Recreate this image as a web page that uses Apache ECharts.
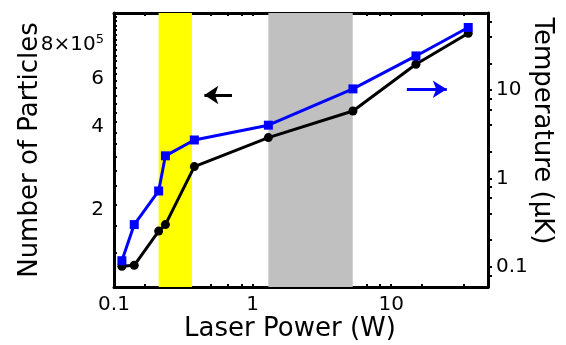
<!DOCTYPE html>
<html>
<head>
<meta charset="utf-8">
<script src="https://cdn.jsdelivr.net/npm/echarts@6/dist/echarts.min.js"></script>
<style>html,body{margin:0;padding:0;background:#fff}#c{width:566px;height:345px}</style>
</head>
<body>
<div id="c"></div>
<script>
// Data
const power = [0.114, 0.14, 0.21, 0.235, 0.38, 1.3, 5.3, 15.1, 36];
const particles = [119000, 120000, 160000, 169000, 275000, 351000, 439000, 650000, 843000];
const temperature = [0.117, 0.30, 0.72, 1.8, 2.72, 4.0, 10.3, 24.3, 51];

// Shaded bands (laser power ranges)
const yellowBand = [0.21, 0.365];
const grayBand = [1.3, 5.28];

// Arrow annotations: [fromX, toX, y]
const blackArrow = [0.71, 0.449, 502000];
const blueArrow = [12.98, 25.2, 10.2];

// Tick labels and tick marks
const xTickLabels = [0.1, 1, 10];
const xTickMarks = [0.1667, 0.3333, 0.5, 0.6667, 0.8333, 1, 1.667, 3.333, 5, 6.667, 8.333, 10, 16.67, 33.33];
const leftTickLabels = [200000, 400000, 600000, 800000];
const leftTickMarks = [133333, 166667, 200000, 233333, 266667, 300000, 333333, 366667, 400000,
  433333, 466667, 500000, 533333, 566667, 600000, 633333, 666667, 700000, 733333, 766667,
  800000, 833333, 866667, 900000, 933333, 966667];
const rightTickLabels = [0.1, 1, 10];
const rightTickMarks = [0.08, 0.1, 0.2, 0.4, 0.6, 0.8, 1, 2, 4, 6, 8, 10, 20, 40, 60];

const FONT = 'DejaVu Sans';
const chart = echarts.init(document.getElementById('c'), null, {renderer: 'canvas'});

const axisLineStyle = {color: '#000', width: 3};

chart.setOption({
  animation: false,
  backgroundColor: '#fff',
  grid: {left: 114, right: 78, top: 13, bottom: 58, containLabel: false, outerBoundsMode: 'none'},
  xAxis: [{
    type: 'log', min: 0.1, max: 50, position: 'bottom',
    name: 'Laser Power (W)', nameLocation: 'middle', nameGap: 29, nameMoveOverlap: false,
    nameTextStyle: {fontFamily: FONT, fontSize: 26, color: '#000', padding: [0, 22, 0, 0]},
    axisLine: {show: true, onZero: false, lineStyle: axisLineStyle},
    axisTick: {show: true, inside: true, length: 3, customValues: xTickMarks, lineStyle: {color: '#000', width: 2}},
    minorTick: {show: false},
    axisLabel: {show: true, customValues: xTickLabels, margin: 8, fontFamily: FONT, fontSize: 20, color: '#000',
      formatter: v => String(v)},
    splitLine: {show: false}
  }, {
    type: 'log', min: 0.1, max: 50, position: 'top',
    axisLine: {show: true, onZero: false, lineStyle: axisLineStyle},
    axisTick: {show: true, inside: true, length: 3, customValues: xTickMarks, lineStyle: {color: '#000', width: 2}},
    axisLabel: {show: false},
    splitLine: {show: false}
  }],
  yAxis: [{
    type: 'log', min: 100000, max: 1000000, position: 'left',
    name: 'Number of Particles', nameLocation: 'middle', nameGap: 71, nameRotate: 90, nameMoveOverlap: false,
    nameTextStyle: {fontFamily: FONT, fontSize: 26, color: '#000'},
    axisLine: {show: true, onZero: false, lineStyle: axisLineStyle},
    axisTick: {show: true, inside: true, length: 3, customValues: leftTickMarks, lineStyle: {color: '#000', width: 2}},
    axisLabel: {show: true, customValues: leftTickLabels, margin: 10, fontFamily: FONT, fontSize: 20, color: '#000',
      padding: [10, 0, 0, 0],
      formatter: v => (Math.abs(v - 800000) < 1 ? '{b|8×10}{s|5}' : String(Math.round(v / 100000))),
      rich: {
        b: {fontFamily: FONT, fontSize: 20, color: '#000'},
        s: {fontFamily: FONT, fontSize: 13, color: '#000', verticalAlign: 'top', padding: [0, 0, 10, 0]}
      }},
    splitLine: {show: false}
  }, {
    type: 'log', min: 0.059, max: 74.4, position: 'right',
    name: 'Temperature (μK)', nameLocation: 'middle', nameGap: 41, nameRotate: -90, nameMoveOverlap: false,
    nameTextStyle: {fontFamily: FONT, fontSize: 26, color: '#000', padding: [0, 38, 0, 0]},
    axisLine: {show: true, onZero: false, lineStyle: axisLineStyle},
    axisTick: {show: true, inside: false, length: 4, customValues: rightTickMarks, lineStyle: {color: '#000', width: 2}},
    axisLabel: {show: true, customValues: rightTickLabels, margin: 8, fontFamily: FONT, fontSize: 20, color: '#000',
      padding: [17, 0, 0, 0],
      formatter: v => String(v)},
    splitLine: {show: false}
  }],
  series: [{
    type: 'line', name: 'bands', xAxisIndex: 0, yAxisIndex: 0, data: [], z: 1,
    markArea: {
      silent: true,
      data: [
        [{xAxis: yellowBand[0], itemStyle: {color: '#ffff00'}}, {xAxis: yellowBand[1]}],
        [{xAxis: grayBand[0], itemStyle: {color: '#c0c0c0'}}, {xAxis: grayBand[1]}]
      ]
    }
  }, {
    type: 'line', name: 'Number of Particles', xAxisIndex: 0, yAxisIndex: 0, z: 3,
    data: power.map((p, i) => [p, particles[i]]),
    symbol: 'circle', symbolSize: 9, showSymbol: true,
    lineStyle: {color: '#000', width: 3}, itemStyle: {color: '#000'},
    markLine: {
      silent: true, symbol: ['none', 'arrow'], symbolSize: [14, 14],
      label: {show: false},
      lineStyle: {color: '#000', width: 3, type: 'solid'},
      data: [[{coord: [blackArrow[0], blackArrow[2]]}, {coord: [blackArrow[1], blackArrow[2]]}]]
    }
  }, {
    type: 'line', name: 'Temperature', xAxisIndex: 0, yAxisIndex: 1, z: 4,
    data: power.map((p, i) => [p, temperature[i]]),
    symbol: 'rect', symbolSize: 9, showSymbol: true,
    lineStyle: {color: '#0000ff', width: 3}, itemStyle: {color: '#0000ff'},
    markLine: {
      silent: true, symbol: ['none', 'arrow'], symbolSize: [13, 14],
      label: {show: false},
      lineStyle: {color: '#0000ff', width: 3, type: 'solid'},
      data: [[{coord: [blueArrow[0], blueArrow[2]]}, {coord: [blueArrow[1], blueArrow[2]]}]]
    }
  }]
});
</script>
</body>
</html>
